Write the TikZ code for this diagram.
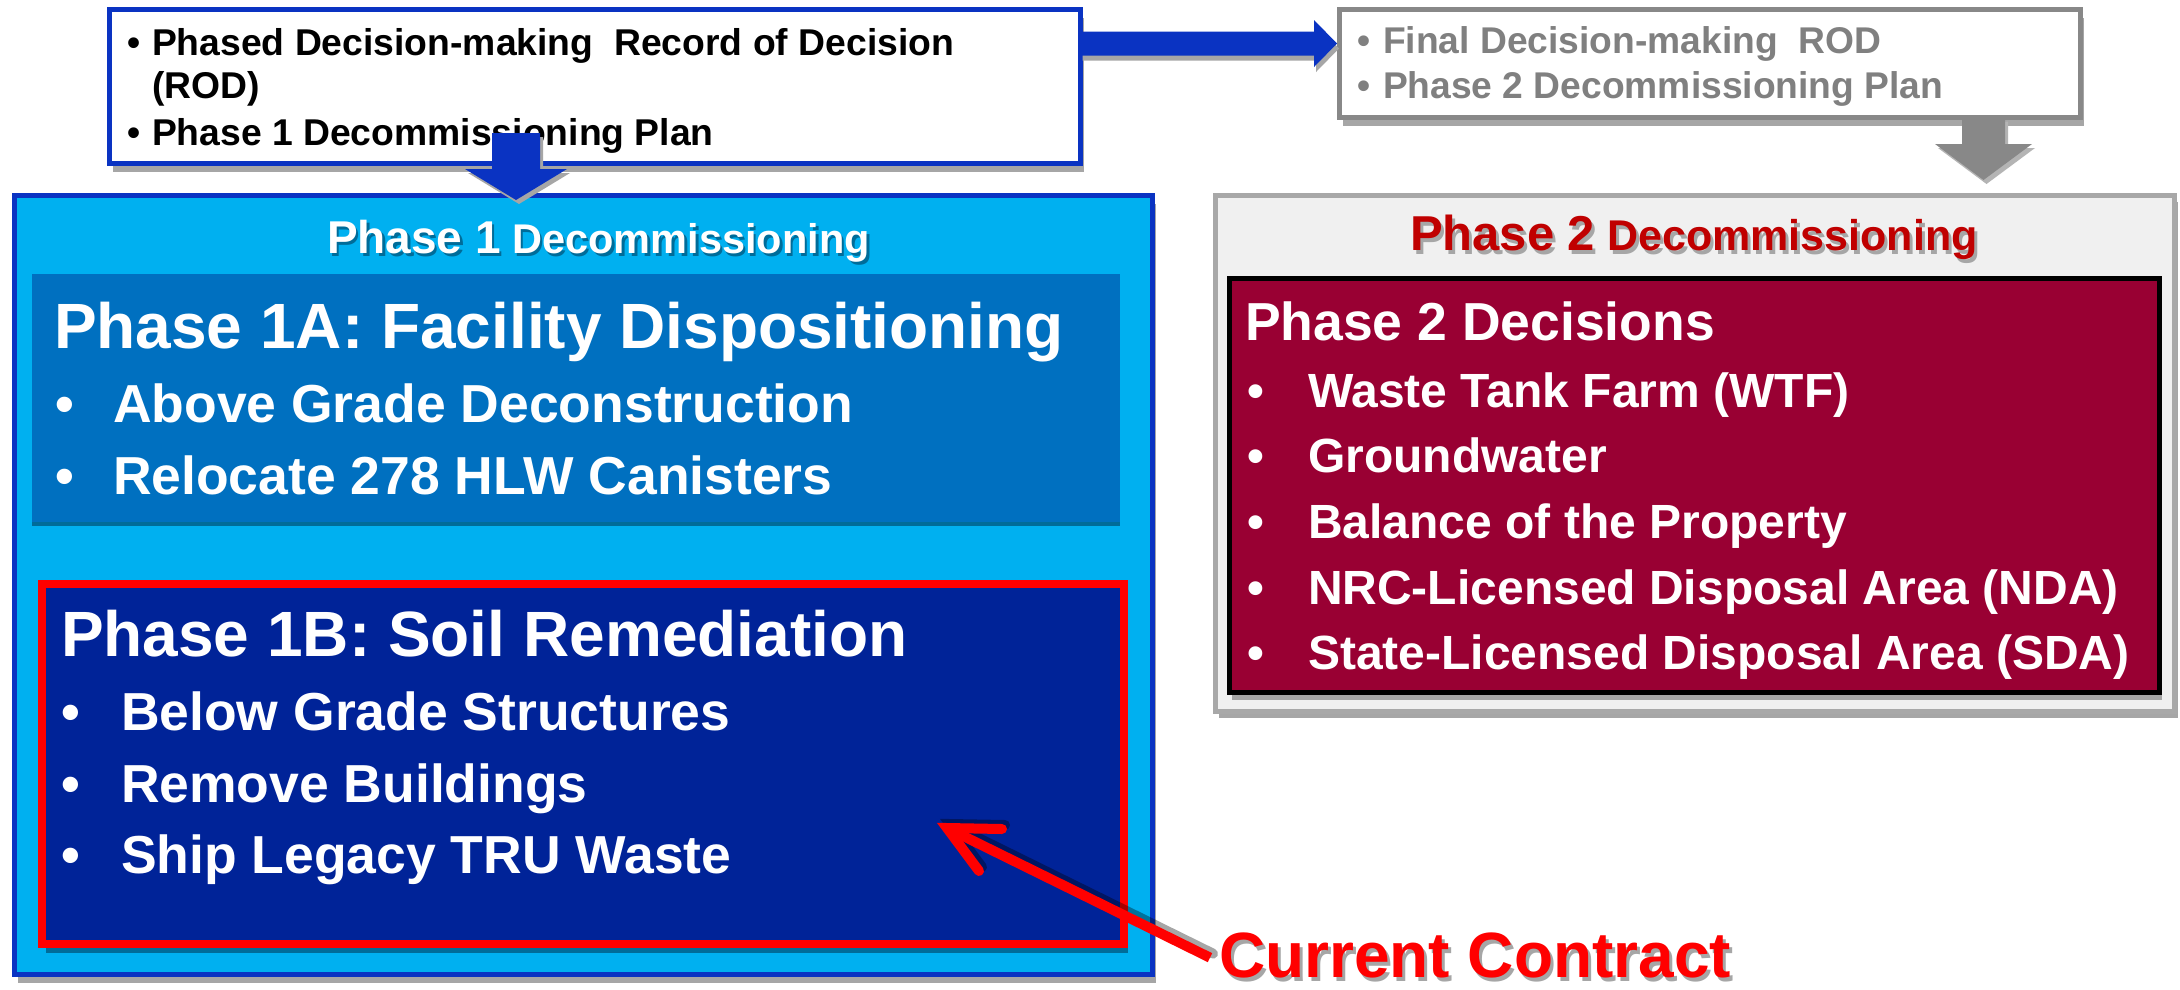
\documentclass[tikz,border=0pt]{standalone}
\usepackage{fontspec}
\setmainfont{Liberation Sans}
\usetikzlibrary{calc,shadows}
\definecolor{bblue}{HTML}{0A33C2}
\definecolor{lblue}{HTML}{00B0F0}
\definecolor{mblue}{HTML}{0070C0}
\definecolor{nblue}{HTML}{002398}
\definecolor{tshadow}{HTML}{006C99}
\definecolor{shgray}{HTML}{A6A6A6}
\definecolor{gborder}{HTML}{888888}
\definecolor{gtext}{HTML}{808080}
\definecolor{gshadow}{HTML}{B4B4B4}
\definecolor{ptwoborder}{HTML}{A8A8A8}
\definecolor{ptwofill}{HTML}{F0F0F0}
\definecolor{maroonc}{HTML}{990033}
\definecolor{tred}{HTML}{C00000}
\definecolor{cred}{HTML}{FF0000}
\tikzset{
  bx/.style={rectangle, inner sep=0pt, outer sep=0pt},
  fs/.style={font={\fontsize{#1}{#1}\selectfont\bfseries}},
  lbl/.style={anchor=base west, inner sep=0pt, outer sep=0pt},
  bul/.style={anchor=base, inner sep=0pt, outer sep=0pt},
  grayshadow/.style 2 args={drop shadow={shadow xshift=#1pt, shadow yshift=-#2pt, fill=shgray, opacity=1}},
  tealshadow/.style 2 args={drop shadow={shadow xshift=#1pt, shadow yshift=-#2pt, fill=tshadow, opacity=1}},
}
\begin{document}
\begin{tikzpicture}[x=1pt,y=-1pt]
\useasboundingbox (0,0) rectangle (2180,989);
\fill[white] (0,0) rectangle (2180,989);

% ---- boxes ----
\node[bx, draw=bblue, line width=5pt, fill=white, minimum width=971pt, minimum height=154pt, grayshadow={3.5}{8}] (tl) at (595,86.5) {};
\node[bx, draw=gborder, line width=5pt, fill=white, minimum width=741pt, minimum height=108pt, grayshadow={3.5}{8.5}] (tr) at (1710,63.5) {};
\node[bx, draw=bblue, line width=5pt, fill=lblue, minimum width=1138pt, minimum height=779pt, grayshadow={3.5}{8}] (p1) at (583.5,585) {};
\node[bx, fill=mblue, minimum width=1088pt, minimum height=248pt, tealshadow={0}{4}] (p1a) at (576,398) {};
\node[bx, draw=cred, line width=8pt, fill=nblue, minimum width=1082pt, minimum height=360pt, tealshadow={4}{8.5}] (p1b) at (583,764) {};
\node[bx, draw=ptwoborder, line width=5pt, fill=ptwofill, minimum width=959pt, minimum height=516pt, grayshadow={3}{6.5}] (p2) at (1695,453.5) {};
\node[bx, draw=black, line width=5pt, fill=maroonc, minimum width=930pt, minimum height=414pt, grayshadow={2.5}{7.5}] (p2i) at (1694.5,485.5) {};

% ---- top-left text ----
\node[bul, fs=37.3] (tlb1) at (134,55) {•};
\node[lbl, fs=37.3] (tl1) at (152,55) {Phased Decision-making\ \ Record of Decision};
\node[lbl, fs=37.3] (tl2) at (152,98) {(ROD)};
\node[bul, fs=37.3] (tlb3) at (134,145) {•};
\node[lbl, fs=37.3] (tl3) at (152,145) {Phase 1 Decommissioning Plan};

% ---- top-right text ----
\node[bul, fs=37.2, text=gtext] (trb1) at (1364,53) {•};
\node[lbl, fs=37.2, text=gtext] (tr1) at (1383,53) {Final Decision-making\ \ ROD};
\node[bul, fs=37.2, text=gtext] (trb2) at (1364,98) {•};
\node[lbl, fs=37.2, text=gtext] (tr2) at (1383,98) {Phase 2 Decommissioning Plan};

% ---- Phase 1 title ----
\node[lbl, fs=46, text=tshadow] (p1ts) at (329.5,256) {Phase 1{\fontsize{41.5}{41.5}\selectfont\ Decommissioning}};
\node[lbl, fs=46, text=white] (p1t) at (327,253) {Phase 1{\fontsize{41.5}{41.5}\selectfont\ Decommissioning}};

% ---- Phase 1A ----
\node[lbl, fs=64, text=white] (p1ah) at (54,348) {Phase 1A: Facility Dispositioning};
\node[bul, fs=53.5, text=white] (p1ab1) at (65,422) {•};
\node[lbl, fs=53.5, text=white] (p1a1) at (113,422) {Above Grade Deconstruction};
\node[bul, fs=53.5, text=white] (p1ab2) at (65,494) {•};
\node[lbl, fs=53.5, text=white] (p1a2) at (113,494) {Relocate 278 HLW Canisters};

% ---- Phase 1B ----
\node[lbl, fs=64, text=white] (p1bh) at (61,656) {Phase 1B: Soil Remediation};
\node[bul, fs=53.5, text=white] (p1bb1) at (71,730) {•};
\node[lbl, fs=53.5, text=white] (p1b1) at (121,730) {Below Grade Structures};
\node[bul, fs=53.5, text=white] (p1bb2) at (71,802) {•};
\node[lbl, fs=53.5, text=white] (p1b2) at (121,802) {Remove Buildings};
\node[bul, fs=53.5, text=white] (p1bb3) at (71,873) {•};
\node[lbl, fs=53.5, text=white] (p1b3) at (121,873) {Ship Legacy TRU Waste};

% ---- Phase 2 title ----
\node[lbl, fs=49, text=shgray] (p2ts) at (1413,254) {Phase 2{\fontsize{43}{43}\selectfont\ Decommissioning}};
\node[lbl, fs=49, text=tred] (p2t) at (1410,250) {Phase 2{\fontsize{43}{43}\selectfont\ Decommissioning}};

% ---- Phase 2 decisions ----
\node[lbl, fs=53.5, text=white] (p2h) at (1245,340) {Phase 2 Decisions};
\node[bul, fs=48, text=white] (p2b1) at (1256,407) {•};
\node[lbl, fs=48, text=white] (p21) at (1308,407) {Waste Tank Farm (WTF)};
\node[bul, fs=48, text=white] (p2b2) at (1256,472) {•};
\node[lbl, fs=48, text=white] (p22) at (1308,472) {Groundwater};
\node[bul, fs=48, text=white] (p2b3) at (1256,538) {•};
\node[lbl, fs=48, text=white] (p23) at (1308,538) {Balance of the Property};
\node[bul, fs=48, text=white] (p2b4) at (1256,604) {•};
\node[lbl, fs=48, text=white] (p24) at (1308,604) {NRC-Licensed Disposal Area (NDA)};
\node[bul, fs=48, text=white] (p2b5) at (1256,669) {•};
\node[lbl, fs=48, text=white] (p25) at (1308,669) {State-Licensed Disposal Area (SDA)};

% ---- block arrows ----
\coordinate (raS) at ($(tl.east)+(0,-43)$);
\coordinate (raT) at ($(tr.west)+(-2.5,-20)$);
\fill[shgray] ($(raS)+(2,17)$) -- ($(raT)+(-21,17)$) -- ($(raT)+(-21,28.5)$) -- ($(raT)+(2,5)$) -- ($(raT)+(-21,-18.5)$) -- ($(raT)+(-21,-7)$) -- ($(raS)+(2,-7)$) -- cycle;
\fill[bblue] ($(raS)+(0,-12)$) -- ($(raT)+(-23,-12)$) -- ($(raT)+(-23,-23.5)$) -- (raT) -- ($(raT)+(-23,23.5)$) -- ($(raT)+(-23,12)$) -- ($(raS)+(0,12)$) -- cycle;

\coordinate (dA) at ($(tl.south)+(-79,-30.5)$);
\coordinate (dT) at ($(p1.north -| dA)+(0,4.5)$);
\fill[shgray] ($(dA)+(-21,4)$) -- ($(dT)+(-21,-27)$) -- ($(dT)+(-48,-27)$) -- ($(dT)+(3,4)$) -- ($(dT)+(54,-27)$) -- ($(dT)+(27,-27)$) -- ($(dA)+(27,4)$) -- cycle;
\fill[bblue] ($(dA)+(-24,0)$) -- ($(dT)+(-24,-31)$) -- ($(dT)+(-51,-31)$) -- (dT) -- ($(dT)+(51,-31)$) -- ($(dT)+(24,-31)$) -- ($(dA)+(24,0)$) -- cycle;

\coordinate (gA) at ($(tr.south)+(273.5,0)$);
\coordinate (gT) at ($(p2.north -| gA)+(0,-15.5)$);
\fill[gshadow] ($(gA)+(-18.5,4)$) -- ($(gT)+(-18.5,-32)$) -- ($(gT)+(-45.5,-32)$) -- ($(gT)+(3,4)$) -- ($(gT)+(51.5,-32)$) -- ($(gT)+(24.5,-32)$) -- ($(gA)+(24.5,4)$) -- cycle;
\fill[gborder] ($(gA)+(-21.5,0)$) -- ($(gT)+(-21.5,-36)$) -- ($(gT)+(-48.5,-36)$) -- (gT) -- ($(gT)+(48.5,-36)$) -- ($(gT)+(21.5,-36)$) -- ($(gA)+(21.5,0)$) -- cycle;

% ---- Current Contract ----
\node[lbl, fs=64, text=shgray, text depth=0pt] (ccs) at (1222,981) {Current Contract};
\node[lbl, fs=64, text=cred, text depth=0pt] (cc) at (1219,977) {Current Contract};

% ---- red arrow ----
\coordinate (rT) at (947,828);
\coordinate (rS) at ($(cc.west)+(-9,3)$);
\coordinate (rB1) at (1002,829);
\coordinate (rB2) at (979,871);
\draw[black, opacity=.35, line width=10pt, line cap=round, line join=miter]
  ($(rS)+(3,-4)$) -- ($(rT)+(3,-4)$) ($(rB1)+(3,-4)$) -- ($(rT)+(3,-4)$) -- ($(rB2)+(3,-4)$);
\draw[cred, line width=10pt, line cap=butt] (rS) -- (rT);
\draw[cred, line width=10pt, line cap=round, line join=miter] (rB1) -- (rT) -- (rB2);
\end{tikzpicture}
\end{document}
